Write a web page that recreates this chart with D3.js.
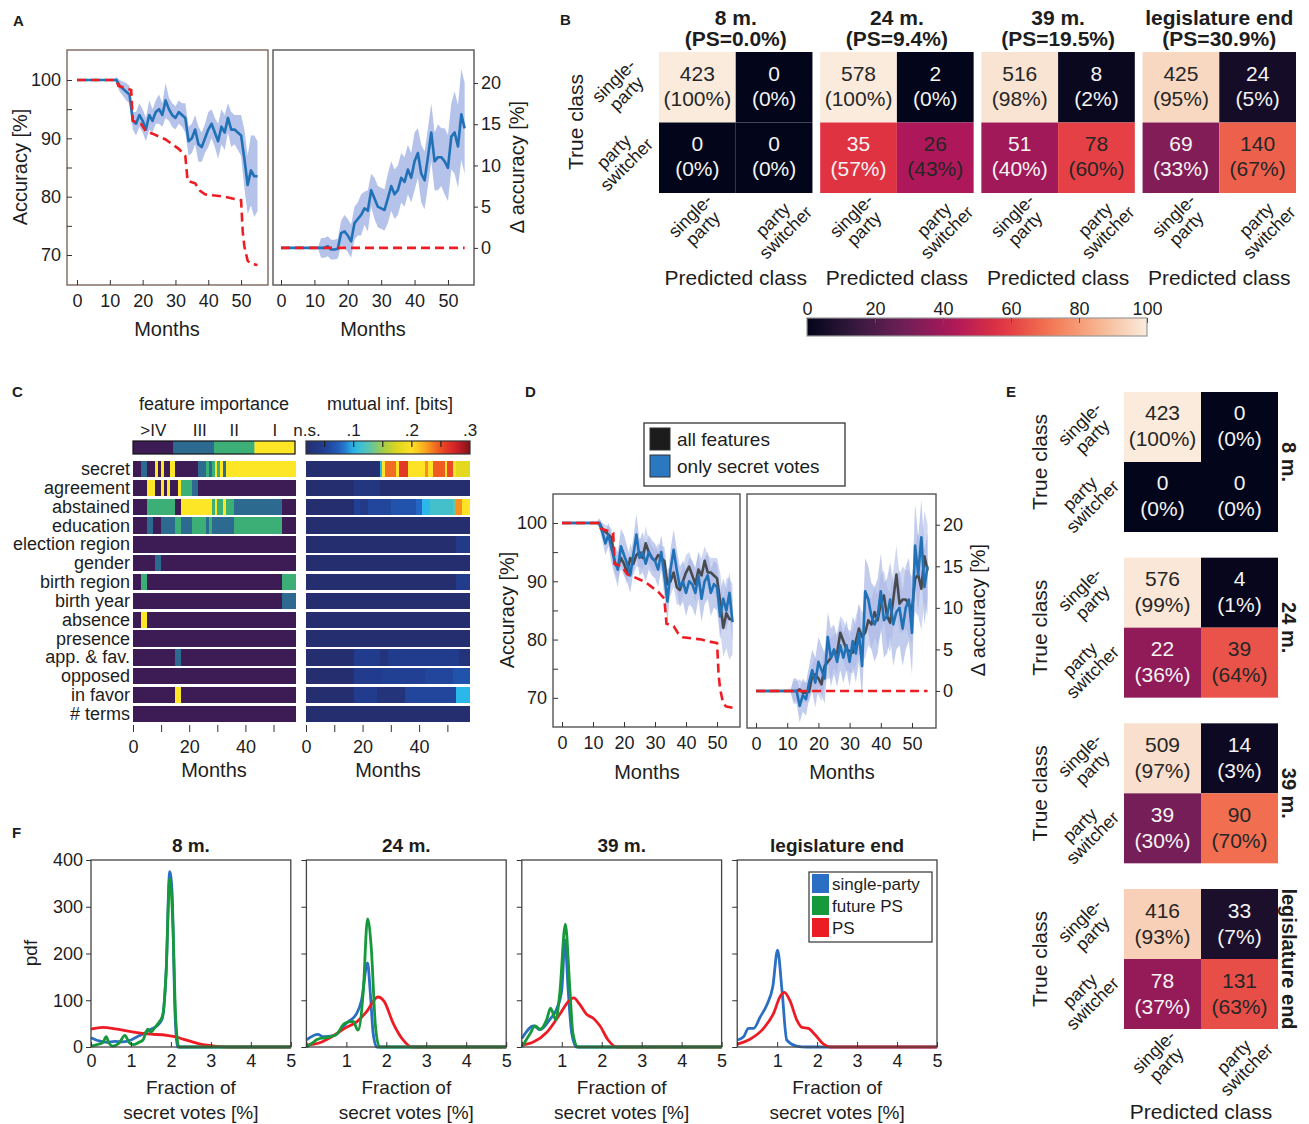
<!DOCTYPE html>
<html><head><meta charset="utf-8">
<script src="https://cdn.jsdelivr.net/npm/d3@7"></script>
<style>
body{margin:0;background:#fff;}
svg{display:block;}
</style></head><body>
<svg id="fig" width="1309" height="1124"></svg>
<script>
// ================= DATA =================
// Panel A / D : accuracy per month (index = month)
const accAll = [100,100,100,100,100,100,100,100,100,100,100,100,100,99,98.5,98,97.5,93,92.5,94,93,91.5,94,93,94.5,95,94,96.5,95,94,93.5,94.5,94,93.5,89.5,90,91.5,89,88.5,90,91.5,92.5,91,89.5,92,91,93.5,91.5,91.5,91,90.5,86.5,82,84.5,83.5,83.5];
const accAllSd = [0,0,0,0,0,0,0,0,0,0,0,0,0.5,1,1.2,1.5,1.5,1.5,2,2,2,2,2.5,2,2,2.5,2,3,2,2,2,2,2,2.5,2.5,2.5,2.5,3,2.5,2.5,3,2.5,2.5,3,3,3,2.5,3,2.5,3,3.5,5,5,6,7,6];
const dAccAll = [0,0,0,0,0,0,0,0,0,0,0,0,0,0,0.2,-0.2,-0.2,-0.1,1.8,2,1.5,0.8,3,3.5,4,4.8,4.5,7,6,5,4.8,4.6,6,7.5,6.5,7,8.5,8,9.5,8.5,10.5,11.5,9,8.2,11,14,10.5,11,11,10.5,9.7,13.5,14,12.3,16.2,14.5];
const dAccAllSd = [0,0,0,0,0,0,0,0,0,0,0,0,1.2,1.2,1.2,1.2,1.2,1.2,1.5,2,2,2,2,2,2.5,2,2.5,2,2.5,2.5,2.5,2.5,3,3,3,3,3,3,3,3,3.5,3,3.5,3.5,3.5,3.5,3.5,4,3.5,4,4,4,5,5,5.5,5.5];
const accSecret = [100,100,100,100,100,100,100,100,100,100,100,100,100,98.5,96.5,98,95.5,93.5,92,96,94.5,93,91,94.5,98,94,95,93,95,94,93.5,92,95,91,86.5,92,95.4,92,89,90,88,90,89.5,88,91,87,90,91,88,89.5,89,84,87,85,88,83];
const accSecretSd = [0,0,0,0,0,0,0,0,0,0,0,0,0.8,1.5,2,2,2.5,2.5,3,3,3.5,3,3,3,3.5,3,3.5,3,3,3,3,3,3,3.5,3.5,3.5,3.5,3.5,3.5,3.5,4,4,4,4,4,4,4,4,4,4,4,4,3.5,3.5,3.5,3.5];
const dAccSecret = [0,0,0,0,0,0,0,0,0,0,0,0,0,0,-1.8,-0.5,-1,1,2.5,1,3.5,2.5,1.5,6.5,4,5,3.5,5.5,4,5.5,3.5,6,4.5,7,3,12,11,9,8,9,12,8.5,9,11,8,9.5,10,7.5,10,11,7,17.5,14,18.5,12.5,15];
const dAccSecretSd = [0,0,0,0,0,0,0,0,0,0,0,0,1.5,1.5,2,2,2,2,2.5,3,3,3,3,3,3.5,3,3,3,3,3,3,3,3.5,3.5,4,4,4,4,4.5,4.5,4.5,4.5,4.5,4.5,5,4.5,4.5,4.5,5,5,5,5,4.5,4.5,4.5,4];
const baselineAcc = [[0,100],[12,100],[12.6,99],[15,98.6],[16.5,98.3],[17,93],[19.5,92.5],[21,91.2],[23,90.8],[25,90.3],[27,89.8],[29,89],[31,88.2],[33,87],[33.7,82.7],[36,82.3],[37.5,81],[39,80.4],[42,80.2],[45,80],[48,79.6],[50,79.4],[50.5,74],[51,71.5],[52,69],[53,68.5],[55,68.3]];
const baselineDelta = [[0,0],[55,0]];
const monthTicks = [0,10,20,30,40,50];
const accTicks = [70,75,80,85,90,95,100];
const deltaTicks = [0,5,10,15,20];

// Panels B / E : confusion matrices
const classes = ["single-party","party switcher"];
const cmTitles = ["8 m.","24 m.","39 m.","legislature end"];
const psShares = ["0.0","9.4","19.5","30.9"];
const cmCountsB = [[[423,0],[0,0]],[[578,2],[35,26]],[[516,8],[51,78]],[[425,24],[69,140]]];
const cmPctB    = [[[100,0],[0,0]],[[100,0],[57,43]],[[98,2],[40,60]],[[95,5],[33,67]]];
const cmDarkB   = [[[1,0],[0,0]],[[1,0],[0,1]],[[1,0],[0,1]],[[1,0],[0,1]]];
const cmCountsE = [[[423,0],[0,0]],[[576,4],[22,39]],[[509,14],[39,90]],[[416,33],[78,131]]];
const cmPctE    = [[[100,0],[0,0]],[[99,1],[36,64]],[[97,3],[30,70]],[[93,7],[37,63]]];
const cmDarkE   = [[[1,0],[0,0]],[[1,0],[0,1]],[[1,0],[0,1]],[[1,0],[0,1]]];
const cbarTicks = [0,20,40,60,80,100];

// Panel C : feature importance (0 = >IV, 1 = III, 2 = II, 3 = I), one char per month 0..57
const features = ["secret","agreement","abstained","education","election region","gender","birth region","birth year","absence","presence","app. & fav.","opposed","in favor","# terms"];
const importanceLevels = [">IV","III","II","I"];
const importance = {
  "secret":          "000110003030033" + "00000000" + "111" + "2123231" + "3333333333333333333333333",
  "agreement":       "00000333003030003222211" + "00000000000000000000000000000000000",
  "abstained":       "00000" + "2222222222" + "00" + "33333333333" + "2" + "3" + "22" + "3" + "222" + "11111111111111111" + "00000",
  "education":       "00000" + "11" + "000" + "11111" + "22" + "1111" + "22222" + "1" + "2" + "11111111" + "22222222222222222" + "00000",
  "election region": "0000000000000000000000000000000000000000000000000000000000",
  "gender":          "00000000" + "11" + "000000000000000000000000000000000000000000000000",
  "birth region":    "000" + "22" + "000000000000000000000000000000000000000000000000" + "22222",
  "birth year":      "00000000000000000000000000000000000000000000000000000" + "11111",
  "absence":         "000" + "33" + "00000000000000000000000000000000000000000000000000000",
  "presence":        "0000000000000000000000000000000000000000000000000000000000",
  "app. & fav.":     "000000000000000" + "11" + "00000000000000000000000000000000000000000",
  "opposed":         "0000000000000000000000000000000000000000000000000000000000",
  "in favor":        "000000000000000" + "33" + "00000000000000000000000000000000000000000",
  "# terms":         "0000000000000000000000000000000000000000000000000000000000"
};
// Panel C : mutual information [bits], run-length [value, number of months]
const mutualInfo = {
  "secret":          [[0.02,26],[0.1,1],[0.2,1],[0.24,4],[0.2,1],[0.26,3],[0.2,6],[0.23,1],[0.2,2],[0.245,4],[0.2,1],[0.25,2],[0.2,1],[0.18,5]],
  "agreement":       [[0.02,17],[0.035,9],[0.02,32]],
  "abstained":       [[0.02,17],[0.05,2],[0.04,3],[0.055,8],[0.065,9],[0.08,2],[0.1,3],[0.115,8],[0.13,1],[0.23,2],[0.2,3]],
  "education":       [[0.02,58]],
  "election region": [[0.02,53],[0.04,5]],
  "gender":          [[0.02,58]],
  "birth region":    [[0.02,53],[0.045,5]],
  "birth year":      [[0.02,58]],
  "absence":         [[0.02,58]],
  "presence":        [[0.02,58]],
  "app. & fav.":     [[0.02,17],[0.045,9],[0.03,3],[0.045,25],[0.03,4]],
  "opposed":         [[0.02,17],[0.045,10],[0.05,15],[0.055,10],[0.065,6]],
  "in favor":        [[0.02,17],[0.045,8],[0.03,10],[0.055,18],[0.1,5]],
  "# terms":         [[0.02,58]]
};
const miTickVals = [0.1,0.2,0.3];
const miTickLabels = [".1",".2",".3"];
const miMinorTicks = [0.05,0.1,0.15,0.2,0.25];
const cMonthTicks = [0,10,20,30,40,50];
const cMonthLabels = [0,20,40];

// Panel F : pdf curves [fraction %, pdf]
const pdfTitles = ["8 m.","24 m.","39 m.","legislature end"];
const pdfSingle = [
  [[0,20],[0.2,13],[0.4,10],[0.6,12],[0.8,11],[1.0,15],[1.2,24],[1.35,30],[1.5,38],[1.65,45],[1.78,60],[1.88,160],[1.97,375],[2.03,330],[2.1,80],[2.17,0],[5,0]],
  [[0,15],[0.29,27],[0.42,22],[0.71,25],[1.0,51],[1.26,72],[1.38,100],[1.53,180],[1.6,115],[1.67,30],[1.76,0],[5,0]],
  [[0,18],[0.3,45],[0.46,37],[0.71,60],[0.87,81],[1.0,122],[1.08,229],[1.16,122],[1.25,29],[1.37,0],[5,0]],
  [[0,15],[0.16,22],[0.28,40],[0.41,40],[0.58,65],[0.74,90],[0.89,129],[1.01,207],[1.12,122],[1.24,15],[1.49,2],[1.74,0],[5,0]]
];
const pdfFuture = [
  [[0,2],[0.15,5],[0.3,10],[0.38,22],[0.45,8],[0.55,2],[0.7,8],[0.85,25],[0.95,10],[1.05,5],[1.2,10],[1.3,15],[1.42,38],[1.5,32],[1.6,42],[1.72,55],[1.8,70],[1.88,160],[1.97,360],[2.05,260],[2.12,60],[2.2,0],[5,0]],
  [[0,0],[0.17,10],[0.29,17],[0.5,20],[0.75,27],[0.96,51],[1.17,55],[1.29,36],[1.42,115],[1.53,274],[1.62,216],[1.73,43],[1.83,0],[5,0]],
  [[0,0],[0.21,29],[0.33,45],[0.46,38],[0.62,58],[0.72,83],[0.85,58],[0.95,115],[1.09,263],[1.2,128],[1.28,29],[1.41,0],[5,0]],
  null
];
const pdfPS = [
  [[0,38],[0.3,42],[0.6,39],[1.0,33],[1.4,28],[1.9,25],[2.1,22],[2.3,17],[2.5,12],[2.8,5],[3.1,2],[3.5,0],[5,0]],
  [[0,4],[0.33,9],[0.67,24],[1.0,42],[1.25,53],[1.5,75],[1.79,107],[1.95,97],[2.17,51],[2.42,15],[2.63,0],[5,0]],
  [[0,4],[0.3,11],[0.62,31],[0.95,70],[1.16,97],[1.3,105],[1.45,91],[1.62,70],[1.78,62],[1.95,46],[2.16,15],[2.37,0],[5,0]],
  [[0,6],[0.33,17],[0.66,40],[0.91,72],[1.08,109],[1.18,117],[1.33,97],[1.49,58],[1.62,42],[1.78,40],[1.95,26],[2.16,6],[2.33,0],[5,0]]
];
const pdfLegend = ["single-party","future PS","PS"];
const pdfXTicks = [0,1,2,3,4,5];
const pdfYTicks = [0,100,200,300,400];

// ================= DRAWING =================
const FONT = '"Liberation Sans", Arial, Helvetica, sans-serif';
const TXT = "#1d1d1d";
const BLUE = "#2071b6", BAND = "#a8b7e5", RED = "#ee1d23", GREY = "#474b50";
const svg = d3.select("#fig").attr("font-family", FONT);
const defs = svg.append("defs");

const rocket = d3.scaleLinear()
  .domain([0,100/7,200/7,300/7,400/7,500/7,600/7,100])
  .range(["#03051a","#35193e","#701f57","#ad1759","#e13342","#f37651","#f6b48f","#faebdd"]);
const impColor = d3.scaleOrdinal().domain([0,1,2,3]).range(["#3d1c55","#2d6a8f","#3caf76","#fce626"]);
const miColor = d3.scaleLinear()
  .domain([0.018,0.05,0.08,0.1,0.125,0.15,0.175,0.2,0.225,0.25,0.275,0.3])
  .range(["#252e6d","#213f93","#2366c4","#2ab8ea","#55c6b7","#a2cc48","#dfd71f","#fde226","#f8a21c","#ec4a24","#d3202a","#7f1416"]);

function txt(x,y,s,size,opts={}){
  const t = svg.append("text").attr("x",x).attr("y",y).text(s)
    .attr("font-size",size).attr("fill",opts.fill||TXT)
    .attr("text-anchor",opts.anchor||"middle").attr("dominant-baseline","central");
  if(opts.bold) t.attr("font-weight","bold");
  if(opts.rotate!==undefined) t.attr("transform",`rotate(${opts.rotate},${x},${y})`);
  return t;
}
function twoLine(x,y,l1,l2,size,angle){
  const t = svg.append("text").attr("transform",`translate(${x},${y}) rotate(${angle})`)
    .attr("text-anchor","middle").attr("font-size",size).attr("fill",TXT);
  t.append("tspan").attr("x",0).attr("y",-size*0.15).text(l1);
  t.append("tspan").attr("x",0).attr("y",size*0.85).text(l2);
}
function styleAxis(g,size){
  g.attr("font-size",size).attr("font-family",FONT);
  g.select(".domain").remove();
  g.selectAll("text").attr("fill",TXT);
  g.selectAll("line").attr("stroke","#333");
}
function panelLabel(s,x,y){ txt(x,y,s,15,{bold:true,anchor:"start"}); }

// ---------- accuracy panels ----------
let clipN = 0;
function accPanel(o){
  const x = d3.scaleLinear().domain(o.xDomain).range([o.x0,o.x1]);
  const y = d3.scaleLinear().domain(o.yDomain).range([o.y1,o.y0]);
  const id = "clip"+(clipN++);
  defs.append("clipPath").attr("id",id).append("rect")
    .attr("x",o.x0).attr("y",o.y0).attr("width",o.x1-o.x0).attr("height",o.y1-o.y0);
  const g = svg.append("g").attr("clip-path",`url(#${id})`);
  o.bands.forEach(b=>{
    const area = d3.area().x((d,i)=>x(i)).y0((d,i)=>y(d-b.sd[i])).y1((d,i)=>y(d+b.sd[i]));
    g.append("path").datum(b.mean).attr("d",area).attr("fill",BAND).attr("opacity",b.opacity);
  });
  o.lines.forEach(l=>{
    const line = d3.line().x((d,i)=>x(i)).y(d=>y(d));
    g.append("path").datum(l.values).attr("d",line).attr("fill","none")
      .attr("stroke",l.color).attr("stroke-width",2.6).attr("stroke-linejoin","round");
  });
  const bl = d3.line().x(d=>x(d[0])).y(d=>y(d[1]));
  g.append("path").datum(o.baseline).attr("d",bl).attr("fill","none")
    .attr("stroke",RED).attr("stroke-width",2.6).attr("stroke-dasharray","9,5");
  svg.append("rect").attr("x",o.x0).attr("y",o.y0).attr("width",o.x1-o.x0).attr("height",o.y1-o.y0)
    .attr("fill","none").attr("stroke",o.stroke).attr("stroke-width",1.4);
  const gx = svg.append("g").attr("transform",`translate(0,${o.y1})`)
    .call(d3.axisBottom(x).tickValues(monthTicks).tickSizeInner(-5).tickSizeOuter(0).tickPadding(9));
  styleAxis(gx,18);
  if(o.side==="left"){
    const gy = svg.append("g").attr("transform",`translate(${o.x0},0)`)
      .call(d3.axisLeft(y).tickValues(accTicks).tickSizeInner(-5).tickSizeOuter(0).tickPadding(6)
        .tickFormat(d=> d%10===0 ? d : ""));
    styleAxis(gy,18);
  } else {
    const gy = svg.append("g").attr("transform",`translate(${o.x1},0)`)
      .call(d3.axisRight(y).tickValues(deltaTicks).tickSizeInner(4).tickSizeOuter(0).tickPadding(3));
    styleAxis(gy,18);
  }
}

// Panel A
accPanel({x0:67,x1:268,y0:50,y1:285,xDomain:[-3.05,58.2],yDomain:[64.86,105.14],stroke:"#7d6560",side:"left",
  bands:[{mean:accAll,sd:accAllSd,opacity:0.85}], lines:[{values:accAll,color:BLUE}], baseline:baselineAcc});
accPanel({x0:273,x1:474,y0:50,y1:285,xDomain:[-2.4,57.8],yDomain:[-4.5,24],stroke:"#555",side:"right",
  bands:[{mean:dAccAll,sd:dAccAllSd,opacity:0.85}], lines:[{values:dAccAll,color:BLUE}], baseline:baselineDelta});
txt(20,167,"Accuracy [%]",20,{rotate:-90});
txt(167,329,"Months",20);
txt(373,329,"Months",20);
txt(517,167,"Δ accuracy [%]",20,{rotate:-90});
panelLabel("A",13,20);

// Panel D
accPanel({x0:553,x1:740,y0:494,y1:727,xDomain:[-2.9,57.4],yDomain:[65,104.97],stroke:"#555",side:"left",
  bands:[{mean:accAll,sd:accAllSd,opacity:0.55},{mean:accSecret,sd:accSecretSd,opacity:0.7}],
  lines:[{values:accAll,color:GREY},{values:accSecret,color:BLUE}], baseline:baselineAcc});
accPanel({x0:747,x1:936,y0:494,y1:728,xDomain:[-2.9,57.7],yDomain:[-4.46,23.7],stroke:"#555",side:"right",
  bands:[{mean:dAccAll,sd:dAccAllSd,opacity:0.55},{mean:dAccSecret,sd:dAccSecretSd,opacity:0.7}],
  lines:[{values:dAccAll,color:GREY},{values:dAccSecret,color:BLUE}], baseline:baselineDelta});
txt(507,610,"Accuracy [%]",20,{rotate:-90});
txt(647,772,"Months",20);
txt(842,772,"Months",20);
txt(978,610,"Δ accuracy [%]",20,{rotate:-90});
svg.append("rect").attr("x",644).attr("y",423).attr("width",201).attr("height",63).attr("fill","#fff").attr("stroke","#333").attr("stroke-width",1.3);
[["all features","#1c1c1c"],["only secret votes","#2a78c0"]].forEach((e,i)=>{
  svg.append("rect").attr("x",650).attr("y",428+i*27).attr("width",20).attr("height",22).attr("fill",e[1]).attr("stroke","#333");
  txt(677,439+i*27,e[0],19,{anchor:"start"});
});
panelLabel("D",525,391);

// ---------- confusion matrices ----------
function confMatrix(x0,y0,cw,ch,counts,pcts,dark,topOff,botOff){
  const xb = d3.scaleBand().domain([0,1]).range([x0,x0+2*cw]);
  const yb = d3.scaleBand().domain([0,1]).range([y0,y0+2*ch]);
  [0,1].forEach(r=>[0,1].forEach(c=>{
    svg.append("rect").attr("x",xb(c)).attr("y",yb(r)).attr("width",xb.bandwidth()).attr("height",yb.bandwidth())
      .attr("fill",rocket(pcts[r][c]));
    const col = dark[r][c] ? "#262626" : "#f4f4f4";
    const cx = xb(c)+cw/2, cy = yb(r)+ch/2;
    txt(cx,cy-topOff,String(counts[r][c]),21,{fill:col});
    txt(cx,cy+botOff,`(${pcts[r][c]}%)`,21,{fill:col});
  }));
}
// Panel B
const bX = d3.scaleBand().domain(cmTitles).range([659,1296]).paddingInner(0.048);
cmTitles.forEach((t,i)=>{
  const x0 = bX(t), w = bX.bandwidth(), cw = w/2;
  confMatrix(x0,52,cw,70.5,cmCountsB[i],cmPctB[i],cmDarkB[i],14,11);
  txt(x0+w/2,17,t,21,{bold:true});
  txt(x0+w/2,38,`(PS=${psShares[i]}%)`,21,{bold:true});
  twoLine(x0+cw/2-1,222,"single-","party",18,-45);
  twoLine(x0+cw*1.5+5,226,"party","switcher",18,-45);
  txt(x0+w/2,277,"Predicted class",21);
});
twoLine(620,87,"single-","party",18,-45);
twoLine(620,158,"party","switcher",18,-45);
txt(575,122,"True class",21,{rotate:-90});
// colorbar
const cbx = d3.scaleLinear().domain([0,100]).range([807,1147]);
const grad = defs.append("linearGradient").attr("id","rocketGrad");
d3.range(0,101,5).forEach(v=>grad.append("stop").attr("offset",v+"%").attr("stop-color",rocket(v)));
svg.append("rect").attr("x",cbx(0)).attr("y",318).attr("width",cbx(100)-cbx(0)).attr("height",18)
  .attr("fill","url(#rocketGrad)").attr("stroke","#9a9a9a").attr("stroke-width",1.2);
const gcb = svg.append("g").attr("transform","translate(0,318)")
  .call(d3.axisTop(cbx).tickValues(cbarTicks).tickSizeInner(-5).tickSizeOuter(0).tickPadding(3));
styleAxis(gcb,18);
gcb.selectAll("line").attr("stroke","#555");
panelLabel("B",560,19);

// Panel E
const eY = d3.scaleBand().domain(cmTitles).range([392,1029]).paddingInner(0.155);
cmTitles.forEach((t,i)=>{
  const y0 = eY(t), h = eY.bandwidth(), ch = h/2;
  confMatrix(1124,y0,77,ch,cmCountsE[i],cmPctE[i],cmDarkE[i],14,12);
  txt(1289,y0+h/2,t,20,{bold:true,rotate:90});
  txt(1040,y0+h/2,"True class",21,{rotate:-90});
  twoLine(1086,y0+ch/2+3,"single-","party",18,-45);
  twoLine(1086,y0+ch*1.5+3,"party","switcher",18,-45);
});
twoLine(1160,1058,"single-","party",18,-45);
twoLine(1240,1063,"party","switcher",18,-45);
txt(1201,1111,"Predicted class",21);
panelLabel("E",1006,391);

// ---------- Panel C ----------
const rowY = d3.scaleBand().domain(features).range([461,722]).paddingInner(0.13);
const xImp = d3.scaleLinear().domain([0,58]).range([133,296]);
const xMI = d3.scaleLinear().domain([0,58]).range([306,470]);
features.forEach(f=>{
  // merge equal neighbouring months into one rect
  const imp = importance[f].split("").map(Number);
  let start = 0;
  for(let m=1;m<=imp.length;m++){
    if(m===imp.length || imp[m]!==imp[start]){
      svg.append("rect").attr("x",xImp(start)).attr("y",rowY(f)).attr("width",xImp(m)-xImp(start))
        .attr("height",rowY.bandwidth()).attr("fill",impColor(imp[start])).attr("shape-rendering","crispEdges");
      start = m;
    }
  }
  let mm = 0;
  mutualInfo[f].forEach(([v,n])=>{
    svg.append("rect").attr("x",xMI(mm)).attr("y",rowY(f)).attr("width",xMI(mm+n)-xMI(mm))
      .attr("height",rowY.bandwidth()).attr("fill",miColor(v)).attr("shape-rendering","crispEdges");
    mm += n;
  });
  txt(130,rowY(f)+rowY.bandwidth()/2,f,18,{anchor:"end"});
});
// importance colorbar
const impBar = d3.scaleBand().domain(importanceLevels).range([133,295]);
importanceLevels.forEach((l,i)=>{
  svg.append("rect").attr("x",impBar(l)).attr("y",441).attr("width",impBar.bandwidth()+0.3).attr("height",13).attr("fill",impColor(i));
  txt(impBar(l)+impBar.bandwidth()/2+(i===1?6:0),430,l,17);
});
svg.append("rect").attr("x",133).attr("y",441).attr("width",162).attr("height",13).attr("fill","none").attr("stroke","#111").attr("stroke-width",1.2);
txt(214,404,"feature importance",18);
// MI colorbar
const miX = d3.scaleLinear().domain([0.018,0.3]).range([306,470]);
const mgrad = defs.append("linearGradient").attr("id","miGrad");
d3.range(0,101,4).forEach(p=>{ const v = 0.018+p/100*0.282; mgrad.append("stop").attr("offset",p+"%").attr("stop-color",miColor(v)); });
svg.append("rect").attr("x",306).attr("y",441).attr("width",164).attr("height",13).attr("fill","url(#miGrad)").attr("stroke","#333").attr("stroke-width",1.2);
miMinorTicks.forEach(v=> svg.append("line").attr("x1",miX(v)).attr("x2",miX(v)).attr("y1",441).attr("y2",447).attr("stroke","#222").attr("stroke-width",1.2));
miTickVals.forEach((v,i)=> txt(miX(v),430,miTickLabels[i],17));
txt(307,430,"n.s.",17);
txt(390,404,"mutual inf. [bits]",18);
[xImp,xMI].forEach(sc=>{
  const g = svg.append("g").attr("transform","translate(0,725)")
    .call(d3.axisBottom(sc).tickValues(cMonthTicks).tickSizeInner(7).tickSizeOuter(0).tickPadding(8)
      .tickFormat(d=> cMonthLabels.includes(d) ? d : ""));
  styleAxis(g,18);
});
txt(214,770,"Months",20);
txt(388,770,"Months",20);
panelLabel("C",12,391);

// ---------- Panel F ----------
const fX = d3.scaleBand().domain(pdfTitles).range([91,937]).paddingInner(0.0725);
pdfTitles.forEach((t,i)=>{
  const x0 = fX(t), x1 = x0+fX.bandwidth(), y0 = 860, y1 = 1047;
  const x = d3.scaleLinear().domain([0,5]).range([x0,x1]);
  const y = d3.scaleLinear().domain([0,400]).range([y1,y0]);
  const line = d3.line().x(d=>x(d[0])).y(d=>y(d[1])).curve(d3.curveMonotoneX);
  const series = [[pdfSingle[i],"#2a6fc4"],[pdfPS[i],"#ec1c24"],[pdfFuture[i],"#16993a"]];
  series.forEach(([d,c])=>{ if(d) svg.append("path").datum(d).attr("d",line).attr("fill","none").attr("stroke",c).attr("stroke-width",2.8).attr("stroke-linejoin","round"); });
  svg.append("rect").attr("x",x0).attr("y",y0).attr("width",x1-x0).attr("height",y1-y0).attr("fill","none").attr("stroke","#444").attr("stroke-width",1.3);
  const gx = svg.append("g").attr("transform",`translate(0,${y1})`)
    .call(d3.axisBottom(x).tickValues(pdfXTicks).tickSizeInner(-5).tickSizeOuter(0).tickPadding(7)
      .tickFormat(d=> (i>0 && d===0) ? "" : d));
  styleAxis(gx,18);
  const gy = svg.append("g").attr("transform",`translate(${x0},0)`)
    .call(d3.axisLeft(y).tickValues(pdfYTicks).tickSizeInner(5).tickSizeOuter(0).tickPadding(3)
      .tickFormat(d=> i===0 ? d : ""));
  styleAxis(gy,18);
  txt((x0+x1)/2,845,t,19,{bold:true});
  txt((x0+x1)/2,1087,"Fraction of",19);
  txt((x0+x1)/2,1112,"secret votes [%]",19);
  if(i===3){
    svg.append("rect").attr("x",809).attr("y",872).attr("width",123).attr("height",70).attr("fill","#fff").attr("stroke","#333").attr("stroke-width",1.2);
    [["#2a6fc4"],["#16993a"],["#ec1c24"]].forEach((c,k)=>{
      svg.append("rect").attr("x",812).attr("y",874+k*22).attr("width",17).attr("height",19).attr("fill",c[0]);
      txt(832,884+k*22,pdfLegend[k],17,{anchor:"start"});
    });
  }
});
txt(30,953,"pdf",19,{rotate:-90});
panelLabel("F",12,832);
</script></body></html>
